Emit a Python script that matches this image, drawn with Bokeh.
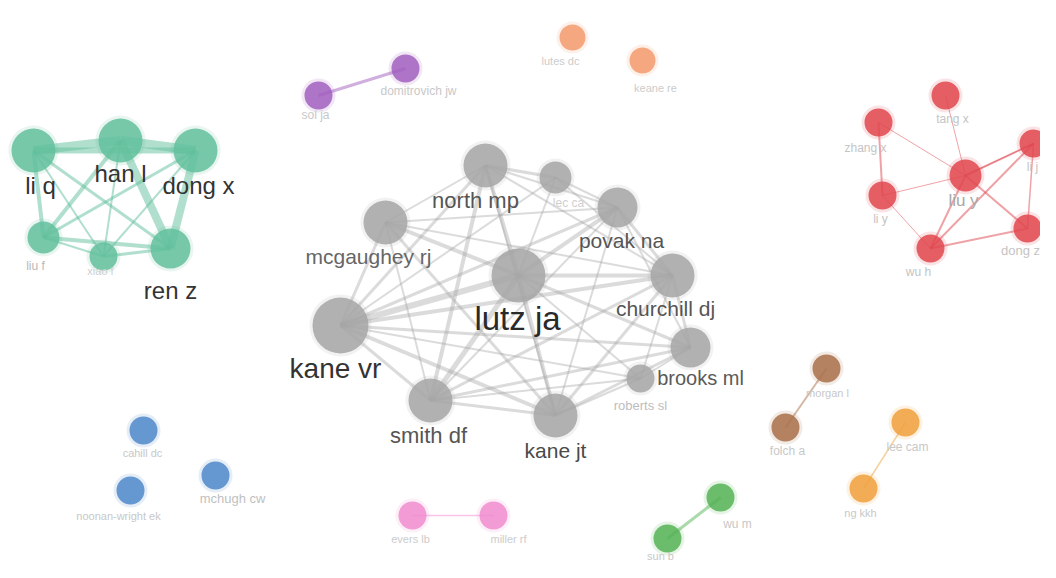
from bokeh.plotting import figure
from bokeh.models import Range1d, ColumnDataSource
from bokeh.embed import file_html
from bokeh.resources import INLINE
from bokeh.core.properties import value

# ---- data: nodes (layout x, y), node size, cluster colour, label size ----
node_names = ["li q", "han l", "dong x", "liu f", "xiao f", "ren z",
              "north mp", "lec ca", "povak na", "mcgaughey rj", "lutz ja", "churchill dj",
              "kane vr", "brooks ml", "roberts sl", "smith df", "kane jt",
              "tang x", "zhang x", "li j", "liu y", "li y", "dong z", "wu h",
              "domitrovich jw", "sol ja", "lutes dc", "keane re",
              "cahill dc", "mchugh cw", "noonan-wright ek",
              "evers lb", "miller rf", "wu m", "sun b",
              "morgan l", "folch a", "lee cam", "ng kkh"]
node_x = [33, 120, 195, 43, 103, 170,
          485, 555, 617, 385, 518, 672,
          340, 690, 640, 430, 555,
          945, 878, 1033, 965, 882, 1027, 930,
          405, 318, 572, 642,
          143, 215, 130,
          412, 493, 720, 667,
          826, 785, 905, 863]
node_y = [150, 140, 150, 237, 256, 248,
          165, 177, 207, 222, 275, 275,
          325, 347, 378, 400, 415,
          95, 122, 143, 175, 195, 228, 248,
          68, 95, 37, 60,
          430, 475, 490,
          515, 515, 497, 538,
          368, 427, 422, 488]
node_r = [22, 22, 22, 16, 14, 20,
          22, 16, 20, 22, 27, 22,
          28, 20, 14, 22, 22,
          14, 14, 14, 16, 14, 14, 14,
          14, 14, 13, 13,
          14, 14, 14,
          14, 14, 14, 14,
          14, 14, 14, 14]
node_cluster = ["g"] * 6 + ["k"] * 11 + ["r"] * 7 + ["p", "p", "o", "o",
                "b", "b", "b", "m", "m", "s", "s", "n", "n", "y", "y"]
cluster_color = {"g": "#62bf9c", "k": "#a6a6a6", "r": "#e0464e", "p": "#a15fbe",
                 "o": "#f39b6d", "b": "#4f87c9", "m": "#f08ccf", "s": "#55b355",
                 "n": "#a9704a", "y": "#f0a03c"}

label_x = [40, 120, 198, 35, 100, 170,
           475, 568, 621, 368, 517, 665,
           335, 700, 640, 428, 555,
           952, 865, 1032, 963, 880, 1020, 918,
           418, 315, 560, 655,
           142, 232, 118,
           410, 508, 737, 660,
           827, 787, 907, 860]
label_y = [185, 173, 185, 265, 270, 290,
           200, 202, 240, 256, 318, 308,
           368, 377, 405, 435, 450,
           118, 147, 166, 200, 218, 250, 271,
           90, 114, 60, 87,
           452, 498, 515,
           538, 538, 523, 555,
           392, 450, 446, 512]
label_size = [24, 24, 24, 12, 11, 24,
              22, 12, 21, 21, 33, 21,
              28, 20, 13, 22, 21,
              12, 12, 12, 17, 12, 13, 12,
              12, 12, 11, 11,
              11, 13, 11,
              11, 11, 12, 11,
              11, 12, 12, 11]
label_color = ["#333333", "#333333", "#333333", "#b8b8b8", "#d0d0d0", "#333333",
               "#555555", "#cfcfcf", "#555555", "#666666", "#2a2a2a", "#555555",
               "#333333", "#5a5a5a", "#bdbdbd", "#555555", "#4a4a4a",
               "#c4c4c4", "#c4c4c4", "#c4c4c4", "#a8a8a8", "#c4c4c4", "#c4c4c4", "#c4c4c4",
               "#c8c8c8", "#c8c8c8", "#cccccc", "#cccccc",
               "#c8c8c8", "#bfbfbf", "#c8c8c8",
               "#cccccc", "#cccccc", "#c8c8c8", "#c8c8c8",
               "#c8c8c8", "#c8c8c8", "#c8c8c8", "#c8c8c8"]

# ---- data: links (source, target, strength) ----
edges = [("li q", "han l", 9), ("han l", "dong x", 9), ("li q", "dong x", 6),
         ("li q", "liu f", 4), ("li q", "ren z", 3), ("han l", "ren z", 8),
         ("dong x", "ren z", 8), ("liu f", "ren z", 4), ("liu f", "xiao f", 2),
         ("liu f", "han l", 4), ("xiao f", "han l", 2), ("xiao f", "dong x", 2),
         ("xiao f", "ren z", 3), ("dong x", "liu f", 3), ("li q", "xiao f", 2),
         ("lutz ja", "kane vr", 6), ("lutz ja", "north mp", 4), ("lutz ja", "povak na", 4),
         ("lutz ja", "churchill dj", 4), ("lutz ja", "mcgaughey rj", 4), ("lutz ja", "smith df", 5),
         ("lutz ja", "kane jt", 4), ("lutz ja", "brooks ml", 3), ("lutz ja", "roberts sl", 2),
         ("lutz ja", "lec ca", 2), ("kane vr", "north mp", 3), ("kane vr", "povak na", 3),
         ("kane vr", "churchill dj", 4), ("kane vr", "mcgaughey rj", 3), ("kane vr", "smith df", 3),
         ("kane vr", "kane jt", 4), ("kane vr", "brooks ml", 3), ("kane vr", "roberts sl", 2),
         ("kane vr", "lec ca", 2), ("north mp", "lec ca", 3), ("north mp", "povak na", 2),
         ("north mp", "mcgaughey rj", 2), ("north mp", "churchill dj", 2), ("north mp", "smith df", 4),
         ("north mp", "kane jt", 2), ("lec ca", "povak na", 2), ("lec ca", "churchill dj", 2),
         ("povak na", "churchill dj", 3), ("povak na", "mcgaughey rj", 2), ("povak na", "smith df", 2),
         ("povak na", "kane jt", 2), ("povak na", "brooks ml", 2), ("mcgaughey rj", "churchill dj", 2),
         ("mcgaughey rj", "smith df", 2), ("mcgaughey rj", "kane jt", 3), ("churchill dj", "smith df", 3),
         ("churchill dj", "kane jt", 3), ("churchill dj", "brooks ml", 3), ("churchill dj", "roberts sl", 2),
         ("brooks ml", "smith df", 3), ("brooks ml", "kane jt", 3), ("brooks ml", "roberts sl", 2),
         ("roberts sl", "kane jt", 2), ("roberts sl", "smith df", 2), ("smith df", "kane jt", 3),
         ("zhang x", "li y", 2), ("liu y", "li j", 2), ("liu y", "dong z", 2),
         ("li j", "dong z", 1.5), ("li j", "wu h", 2), ("wu h", "dong z", 2),
         ("wu h", "liu y", 2), ("wu h", "li y", 1), ("zhang x", "liu y", 1),
         ("tang x", "liu y", 1), ("li y", "liu y", 1), ("liu y", "li j", 1),
         ("domitrovich jw", "sol ja", 3), ("evers lb", "miller rf", 1.5), ("wu m", "sun b", 3),
         ("morgan l", "folch a", 2), ("lee cam", "ng kkh", 1.5)]

# ---- build figure ----
W, H = 1040, 562
p = figure(width=W, height=H, x_range=Range1d(0, W), y_range=Range1d(H, 0),
           output_backend="svg", toolbar_location=None, min_border=0)
p.axis.visible = False
p.grid.visible = False
p.outline_line_color = None
p.background_fill_color = "white"
p.border_fill_color = "white"

idx = {n: i for i, n in enumerate(node_names)}
xs, ys, ws, cs, al = [], [], [], [], []
for a, b, w in edges:
    i, j = idx[a], idx[b]
    xs.append([node_x[i], node_x[j]])
    ys.append([node_y[i], node_y[j]])
    ws.append(w)
    cl = node_cluster[i]
    cs.append(cluster_color[cl])
    al.append(0.4 if cl == "k" else 0.5)
p.multi_line(xs=xs, ys=ys, line_width=ws, line_color=cs, line_alpha=al)

colors = [cluster_color[c] for c in node_cluster]
src = ColumnDataSource(dict(x=node_x, y=node_y, d=[2 * r for r in node_r],
                            halo=[2 * r + 6 for r in node_r], c=colors))
p.scatter("x", "y", size="halo", fill_color="c", fill_alpha=0.15, line_color=None, source=src)
p.scatter("x", "y", size="d", fill_color="c", fill_alpha=0.85, line_color=None, source=src)

lsrc = ColumnDataSource(dict(x=label_x, y=label_y, t=node_names,
                             s=[f"{s}px" for s in label_size], c=label_color))
p.text("x", "y", text="t", text_font_size="s", text_color="c", text_align="center",
       text_baseline="middle", text_font=value("Liberation Sans"), source=lsrc)

open("out.html", "w").write(file_html(p, INLINE))
